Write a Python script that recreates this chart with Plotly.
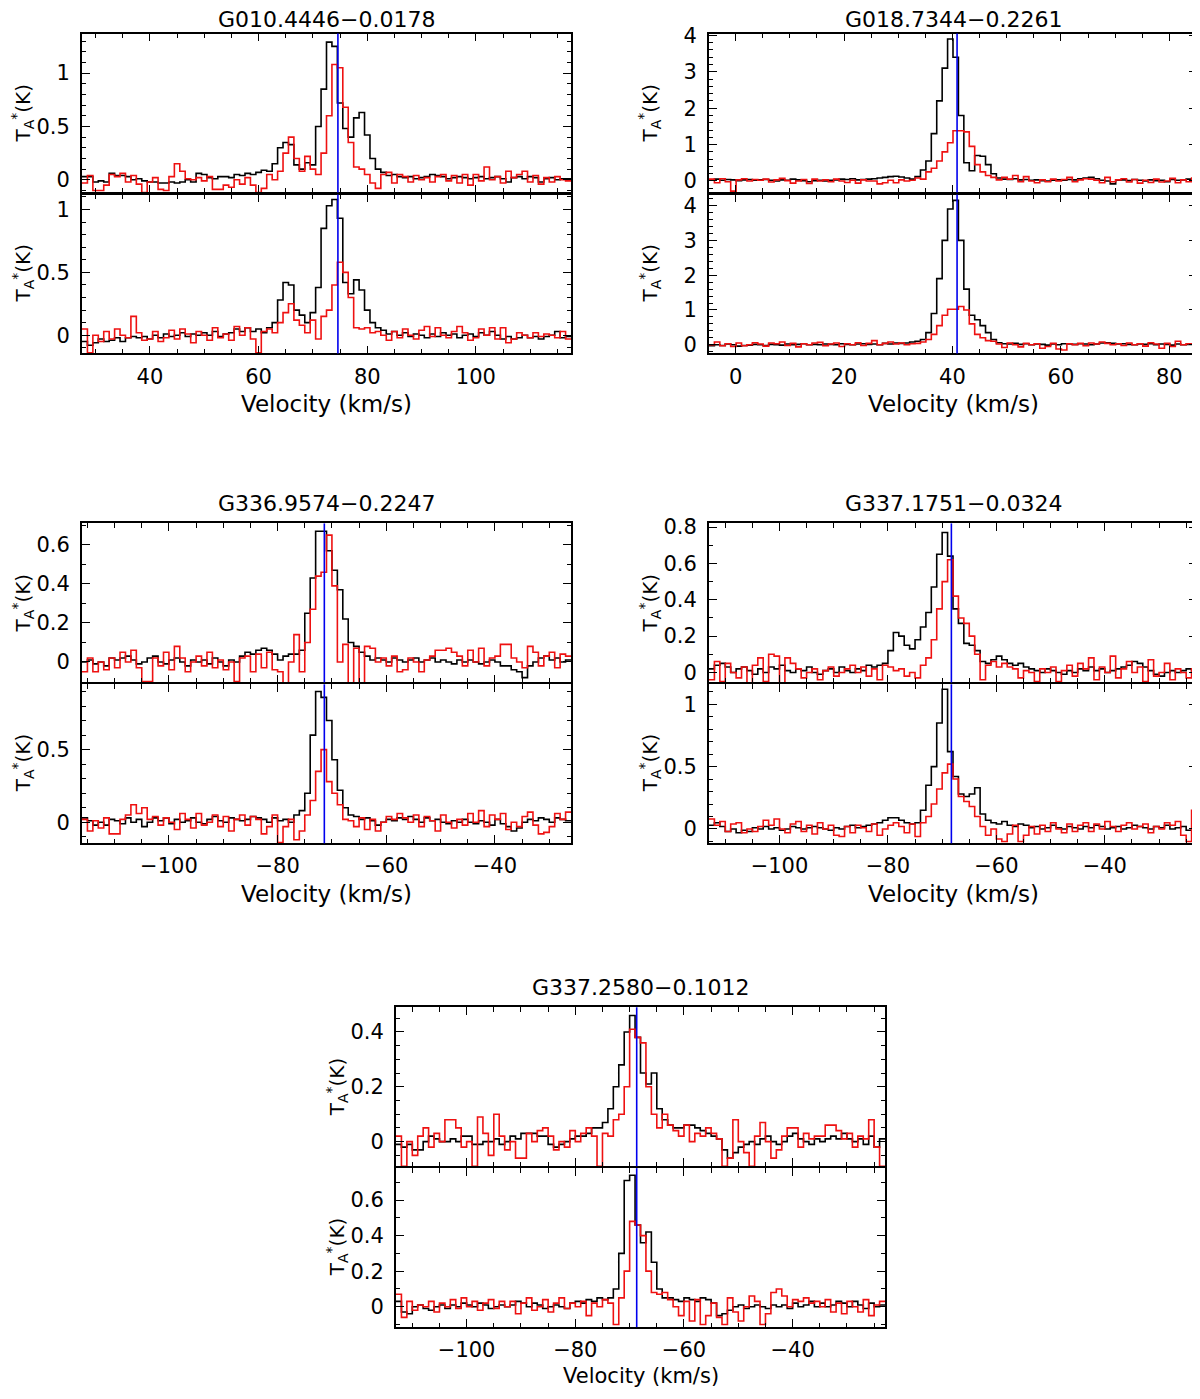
import numpy as np
import plotly.graph_objects as go

# source names, velocity grid (left edge of first channel) and marker velocity
names = ["G010.4446−0.0178", "G018.7344−0.2261", "G336.9574−0.2247",
         "G337.1751−0.0324", "G337.2580−0.1012"]
vel_start = [27.5, -4.9, -116.0, -113.0, -113.0]
chan_width = 1.0
v_marker = [74.6, 40.85, -71.4, -68.3, -68.7]

# ---- G010.4446-0.0178 ----
g010_top_black = [
    0.03, 0.03, -0.02, -0.01, -0.02, 0.06, 0.04, 0.04, 0.03, 0.00,
    0.01, -0.01, -0.02, -0.02, -0.03, -0.03, -0.02, -0.03, -0.02, 0.00,
    -0.02, 0.06, 0.05, 0.02, 0.01, 0.03, 0.03, 0.02, 0.05, 0.04,
    0.06, 0.05, 0.07, 0.09, 0.08, 0.15, 0.30, 0.35, 0.33, 0.14,
    0.10, 0.16, 0.14, 0.50, 0.85, 1.29, 1.25, 0.72, 0.48, 0.40,
    0.58, 0.63, 0.42, 0.20, 0.10, 0.07, 0.04, 0.05, 0.03, 0.02,
    0.03, 0.01, 0.02, 0.03, 0.05, 0.04, 0.03, 0.01, 0.02, 0.03,
    0.02, 0.01, 0.02, 0.03, 0.01, 0.02, 0.03, 0.01, -0.02, 0.02,
    0.03, 0.01, 0.03, 0.02, -0.02, 0.01, 0.02, 0.00, 0.01, 0.01]
g010_top_red = [
    -0.03, 0.04, -0.10, -0.10, -0.05, 0.05, 0.03, 0.06, -0.02, 0.04,
    -0.04, -0.12, -0.02, 0.02, -0.09, -0.10, 0.03, 0.15, 0.08, 0.01,
    0.00, 0.02, -0.01, 0.03, -0.09, -0.09, -0.05, -0.07, 0.00, -0.04,
    0.02, -0.05, -0.12, -0.08, 0.05, 0.00, 0.08, 0.25, 0.40, 0.20,
    0.08, 0.22, 0.10, 0.05, 0.25, 0.60, 1.08, 1.05, 0.68, 0.35,
    0.12, 0.10, 0.05, -0.03, -0.08, 0.05, 0.07, -0.03, 0.05, 0.03,
    -0.02, 0.04, 0.00, 0.02, -0.02, 0.03, 0.05, -0.01, 0.04, -0.03,
    0.05, -0.05, 0.05, -0.01, 0.12, 0.00, 0.03, -0.03, 0.08, 0.02,
    0.05, 0.08, -0.02, 0.04, -0.04, 0.02, -0.02, 0.03, 0.00, -0.01]
g010_bot_black = [
    -0.05, -0.08, -0.06, -0.03, -0.05, -0.04, -0.02, -0.05, -0.02, -0.01,
    -0.02, -0.01, -0.03, 0.00, -0.02, 0.01, -0.01, 0.00, 0.02, -0.01,
    0.01, 0.00, 0.02, 0.00, 0.03, -0.01, 0.01, 0.02, 0.05, 0.03,
    0.06, 0.03, 0.05, 0.02, 0.06, 0.10, 0.28, 0.42, 0.40, 0.20,
    0.16, 0.10, 0.18, 0.38, 0.85, 1.03, 1.08, 0.93, 0.42, 0.33,
    0.44, 0.36, 0.20, 0.10, 0.06, 0.04, 0.01, 0.03, 0.00, 0.02,
    -0.01, 0.01, 0.00, -0.02, 0.01, -0.01, 0.02, 0.00, 0.01, -0.02,
    0.00, 0.01, -0.01, 0.02, 0.00, 0.03, 0.00, -0.03, -0.01, -0.03,
    -0.02, 0.00, -0.02, -0.01, -0.03, -0.01, 0.00, 0.03, -0.02, -0.01]
g010_bot_red = [
    0.05, -0.14, 0.00, -0.05, 0.03, -0.03, 0.05, 0.00, -0.02, 0.15,
    0.02, -0.04, -0.03, 0.03, -0.05, -0.02, 0.04, -0.03, 0.05, 0.01,
    -0.06, 0.03, 0.00, -0.04, 0.06, -0.02, 0.01, -0.04, 0.07, 0.00,
    0.06, -0.03, -0.14, 0.03, 0.05, 0.02, 0.10, 0.18, 0.25, 0.12,
    0.08, 0.02, 0.12, -0.03, 0.15, 0.20, 0.40, 0.58, 0.50, 0.30,
    0.06, 0.05, 0.06, 0.02, 0.03, 0.00, -0.04, 0.03, -0.02, 0.05,
    0.00, -0.03, 0.04, 0.07, -0.01, 0.06, 0.00, -0.02, 0.03, 0.07,
    0.02, -0.04, -0.02, 0.05, 0.00, 0.06, -0.03, 0.06, -0.06, -0.03,
    0.02, 0.00, -0.02, 0.02, -0.01, 0.01, 0.00, -0.02, 0.03, -0.03]

# ---- G018.7344-0.2261 ----
g018_top_black = [
    0.03, 0.05, 0.02, 0.04, 0.03, 0.01, 0.03, 0.04, 0.02, 0.03,
    0.04, 0.02, 0.00, 0.03, 0.02, 0.05, 0.03, 0.01, -0.02, 0.01,
    0.02, 0.00, 0.02, 0.03, 0.05, 0.04, 0.06, 0.03, 0.04, 0.05,
    0.06, 0.08, 0.10, 0.12, 0.13, 0.11, 0.08, 0.05, 0.12, 0.30,
    0.55, 1.30, 2.20, 3.10, 3.90, 3.40, 1.80, 0.50, 0.28, 0.70,
    0.68, 0.45, 0.20, 0.08, 0.05, 0.04, 0.06, 0.03, 0.04, 0.02,
    0.03, 0.01, 0.00, 0.02, 0.03, 0.02, 0.04, 0.03, 0.06, 0.08,
    0.10, 0.06, 0.02, 0.00, -0.08, 0.02, 0.03, 0.01, 0.04, 0.02,
    0.00, 0.03, 0.01, 0.02, -0.02, 0.04, 0.02, 0.03, 0.05, 0.04]
g018_top_red = [
    0.05, -0.05, 0.06, -0.02, -0.28, 0.03, 0.06, 0.00, 0.04, 0.02,
    0.05, -0.03, 0.03, 0.07, 0.01, -0.06, 0.00, 0.04, -0.07, 0.05,
    0.00, 0.03, -0.02, 0.05, 0.00, -0.04, 0.02, -0.06, 0.03, 0.00,
    0.00, -0.08, -0.05, 0.02, -0.05, 0.03, 0.00, 0.02, 0.08, 0.05,
    0.25, 0.35, 0.55, 0.80, 1.05, 1.38, 1.38, 1.35, 0.95, 0.45,
    0.25, 0.15, 0.10, 0.03, 0.10, 0.05, 0.15, -0.02, 0.12, 0.00,
    -0.05, 0.03, -0.02, 0.05, 0.00, 0.04, 0.10, -0.02, 0.03, 0.06,
    0.05, 0.02, -0.05, 0.10, -0.02, 0.03, 0.06, -0.03, 0.04, -0.06,
    0.02, -0.04, 0.05, -0.03, 0.00, 0.07, -0.05, 0.03, -0.02, 0.08]
g018_bot_black = [
    -0.03, 0.00, -0.02, 0.02, 0.00, -0.04, -0.02, -0.01, 0.01, 0.00,
    -0.02, 0.01, 0.00, -0.01, 0.02, 0.00, 0.01, 0.03, 0.00, 0.01,
    0.00, 0.02, 0.01, 0.00, 0.03, 0.01, 0.00, 0.02, 0.03, 0.01,
    0.02, 0.00, 0.04, 0.02, 0.05, 0.04, 0.05, 0.08, 0.10, 0.15,
    0.35, 0.90, 1.90, 3.00, 3.90, 4.15, 3.00, 1.60, 0.85, 0.72,
    0.55, 0.35, 0.15, 0.06, 0.03, 0.02, 0.04, 0.01, 0.03, 0.00,
    0.02, 0.01, -0.01, 0.02, 0.00, 0.03, 0.02, 0.01, 0.03, 0.02,
    0.00, 0.02, 0.05, 0.06, 0.04, 0.02, 0.03, 0.01, 0.00, 0.02,
    0.01, 0.03, 0.00, 0.02, 0.01, -0.01, 0.02, 0.00, 0.01, 0.02]
g018_bot_red = [
    0.00, 0.08, -0.03, 0.03, -0.05, 0.05, -0.03, 0.00, 0.06, 0.02,
    -0.04, 0.05, 0.03, 0.08, -0.02, 0.04, -0.06, 0.03, 0.00, 0.05,
    0.07, -0.03, 0.02, 0.05, -0.05, 0.03, 0.00, 0.06, -0.02, 0.04,
    0.12, 0.00, 0.04, 0.08, 0.02, 0.05, 0.00, 0.03, 0.04, 0.08,
    0.15, 0.30, 0.55, 0.85, 1.02, 1.02, 1.10, 1.00, 0.60, 0.30,
    0.20, 0.12, 0.10, 0.02, -0.08, 0.05, 0.00, -0.06, 0.04, 0.00,
    0.03, -0.10, -0.05, 0.04, -0.12, -0.15, 0.03, 0.00, 0.04, -0.03,
    0.05, 0.02, 0.08, 0.04, 0.00, 0.03, -0.02, 0.05, 0.00, 0.03,
    -0.04, 0.06, 0.02, -0.10, 0.04, -0.05, 0.10, 0.00, 0.03, 0.02]

# ---- G336.9574-0.2247 ----
g336_top_black = [
    0.00, 0.01, -0.01, 0.00, -0.02, 0.02, 0.01, 0.02, 0.03, 0.01,
    -0.01, 0.00, 0.02, 0.03, 0.00, -0.01, 0.01, 0.02, 0.00, -0.02,
    0.01, 0.00, 0.01, -0.01, 0.02, 0.00, -0.02, 0.01, 0.00, 0.03,
    0.05, 0.04, 0.06, 0.07, 0.06, 0.04, 0.01, 0.03, 0.04, 0.04,
    0.06, 0.25, 0.43, 0.67, 0.67, 0.57, 0.47, 0.37, 0.22, 0.10,
    0.08, 0.05, 0.03, 0.01, 0.02, 0.01, 0.00, 0.02, 0.01, 0.00,
    0.01, 0.02, 0.00, 0.01, 0.02, 0.00, 0.01, 0.00, -0.01, 0.01,
    0.00, 0.01, 0.00, -0.01, 0.00, 0.01, 0.00, -0.02, -0.02, -0.04,
    -0.05, -0.08, -0.02, 0.00, 0.02, 0.03, 0.01, 0.02, 0.00, 0.01]
g336_top_red = [
    -0.05, 0.02, -0.05, 0.00, -0.04, 0.02, -0.03, 0.05, 0.00, 0.06,
    -0.03, -0.10, -0.10, 0.02, -0.02, 0.05, -0.04, 0.08, 0.02, -0.05,
    0.00, 0.03, -0.02, 0.05, -0.03, 0.01, -0.04, 0.00, -0.10, 0.02,
    0.03, -0.05, 0.04, -0.03, 0.05, -0.04, -0.05, -0.12, 0.00, 0.14,
    -0.05, 0.10, 0.27, 0.44, 0.46, 0.65, 0.39, 0.00, 0.09, -0.12,
    0.07, -0.12, 0.08, 0.07, 0.00, 0.02, -0.02, 0.03, -0.05, -0.04,
    0.02, 0.00, -0.05, 0.01, 0.03, 0.06, 0.06, 0.07, 0.05, 0.03,
    -0.02, 0.06, 0.00, 0.07, -0.02, 0.02, 0.03, 0.09, 0.09, 0.02,
    0.00, -0.03, 0.08, 0.05, -0.02, 0.03, 0.05, -0.03, 0.04, 0.03]
g336_bot_black = [
    0.03, 0.01, -0.02, 0.00, -0.02, 0.02, 0.01, -0.01, 0.03, 0.00,
    0.02, -0.03, 0.00, 0.03, 0.01, 0.03, -0.01, 0.02, 0.00, 0.01,
    0.03, 0.00, -0.01, 0.02, 0.04, 0.01, 0.00, 0.03, 0.02, 0.01,
    0.02, 0.04, 0.03, 0.02, 0.00, 0.03, 0.01, 0.02, 0.00, 0.05,
    0.08, 0.20, 0.60, 0.90, 0.86, 0.70, 0.43, 0.22, 0.10, 0.05,
    0.04, 0.02, 0.03, 0.01, -0.02, 0.00, 0.02, 0.01, 0.03, 0.02,
    0.04, 0.02, 0.00, 0.03, 0.01, 0.02, 0.00, -0.01, 0.01, 0.00,
    0.02, 0.00, -0.01, 0.01, 0.00, -0.02, 0.02, -0.01, -0.03, -0.06,
    -0.04, 0.00, 0.02, 0.01, 0.03, 0.02, 0.00, 0.03, 0.02, 0.01]
g336_bot_red = [
    0.02, -0.06, 0.01, -0.04, 0.03, -0.08, -0.08, 0.02, 0.05, 0.12,
    0.06, 0.10, 0.02, 0.04, -0.02, 0.03, 0.00, -0.05, 0.06, 0.02,
    -0.04, 0.06, -0.02, 0.00, 0.05, -0.03, 0.04, -0.06, 0.02, 0.05,
    -0.02, 0.04, 0.02, -0.08, -0.03, 0.05, -0.14, -0.03, 0.02, -0.12,
    -0.06, 0.05, 0.15, 0.35, 0.50, 0.28, 0.20, 0.12, 0.02, 0.01,
    -0.03, 0.03, -0.05, 0.02, -0.06, 0.00, 0.04, 0.02, 0.06, 0.03,
    0.00, 0.05, -0.03, 0.04, 0.01, -0.06, 0.05, 0.00, -0.04, 0.02,
    -0.02, 0.06, 0.00, 0.08, -0.03, 0.05, 0.02, 0.06, -0.05, 0.00,
    -0.03, 0.04, 0.07, -0.02, -0.08, -0.07, -0.03, 0.06, 0.02, 0.07]

# ---- G337.1751-0.0324 ----
g3371_top_black = [
    0.02, 0.04, 0.05, 0.03, 0.00, 0.02, 0.03, 0.01, -0.01, 0.02,
    0.00, 0.03, 0.02, 0.04, 0.01, 0.00, 0.02, 0.01, 0.03, 0.00,
    -0.01, 0.01, 0.02, 0.00, 0.03, 0.01, 0.00, 0.02, 0.01, 0.04,
    0.03, 0.04, 0.05, 0.12, 0.22, 0.20, 0.15, 0.13, 0.18, 0.25,
    0.33, 0.47, 0.65, 0.77, 0.64, 0.35, 0.27, 0.16, 0.15, 0.12,
    0.06, 0.05, 0.07, 0.09, 0.07, 0.05, 0.04, 0.05, 0.03, 0.02,
    0.01, 0.00, 0.02, 0.01, 0.00, -0.01, 0.01, 0.00, 0.02, 0.01,
    0.03, 0.01, 0.02, 0.00, 0.01, 0.02, 0.03, 0.04, 0.06, 0.05,
    0.03, 0.01, -0.01, -0.02, 0.00, 0.01, 0.00, 0.01, 0.02, 0.00]
g3371_top_red = [
    -0.04, 0.06, -0.05, 0.05, 0.00, -0.03, 0.03, -0.06, 0.04, 0.08,
    -0.05, 0.10, 0.09, -0.06, 0.08, 0.05, 0.02, -0.03, 0.00, 0.02,
    -0.04, 0.01, 0.03, -0.02, 0.00, 0.02, 0.04, 0.00, 0.03, -0.02,
    0.02, -0.04, 0.04, 0.03, 0.01, 0.02, -0.02, 0.00, -0.03, 0.04,
    0.08, 0.18, 0.35, 0.50, 0.62, 0.42, 0.30, 0.27, 0.20, 0.10,
    -0.04, 0.04, 0.06, 0.03, 0.05, 0.03, 0.02, -0.03, 0.01, 0.00,
    -0.05, 0.02, 0.00, 0.03, -0.05, 0.01, 0.04, -0.02, 0.05, 0.02,
    0.08, -0.04, 0.03, 0.00, 0.09, -0.03, 0.02, 0.06, 0.00, 0.03,
    -0.05, 0.07, -0.02, 0.00, 0.05, -0.04, 0.02, 0.00, -0.03, 0.02]
g3371_bot_black = [
    0.03, 0.05, 0.02, -0.02, 0.00, -0.03, -0.01, -0.02, 0.01, 0.00,
    0.02, 0.00, 0.01, -0.01, 0.00, 0.02, 0.01, 0.00, 0.01, 0.02,
    0.01, 0.00, -0.01, 0.01, 0.00, 0.02, 0.03, 0.01, 0.02, 0.03,
    0.04, 0.05, 0.07, 0.09, 0.09, 0.07, 0.05, 0.04, 0.05, 0.15,
    0.35, 0.50, 0.85, 1.12, 0.62, 0.42, 0.28, 0.26, 0.28, 0.33,
    0.12, 0.07, 0.05, 0.04, 0.06, 0.03, 0.02, 0.04, 0.03, 0.01,
    0.02, 0.00, 0.01, 0.03, 0.01, 0.00, 0.02, 0.01, 0.00, 0.02,
    0.01, 0.03, 0.02, 0.00, 0.01, 0.02, 0.00, 0.01, 0.03, 0.02,
    0.01, 0.00, 0.02, 0.01, 0.03, 0.00, 0.01, 0.02, -0.01, 0.00]
g3371_bot_red = [
    0.08, 0.03, 0.06, -0.02, 0.04, 0.05, -0.03, 0.00, -0.02, 0.02,
    0.07, 0.03, 0.08, 0.00, -0.03, 0.04, 0.06, -0.02, 0.03, -0.04,
    0.05, 0.00, 0.03, -0.05, -0.06, 0.02, -0.03, 0.03, 0.01, -0.02,
    0.04, -0.05, 0.00, 0.03, 0.05, 0.02, -0.03, 0.04, -0.06, 0.05,
    0.10, 0.20, 0.32, 0.45, 0.52, 0.40, 0.26, 0.22, 0.18, 0.10,
    0.02, -0.05, 0.00, -0.08, -0.10, -0.04, 0.03, -0.10, -0.05, 0.02,
    -0.04, 0.03, -0.02, 0.05, 0.00, -0.03, 0.04, -0.02, 0.03, 0.05,
    -0.02, 0.04, 0.00, 0.06, 0.02, -0.02, 0.03, 0.05, 0.00, 0.02,
    0.04, -0.03, 0.02, 0.00, 0.05, 0.03, 0.06, -0.05, -0.10, 0.15]

# ---- G337.2580-0.1012 ----
g3372_top_black = [
    -0.01, -0.02, -0.01, -0.03, -0.03, 0.00, 0.02, 0.01, 0.00, 0.00,
    0.01, 0.00, 0.02, 0.02, -0.01, -0.01, 0.00, 0.00, 0.01, -0.01,
    0.00, 0.02, 0.01, 0.03, 0.03, 0.03, 0.02, 0.02, -0.01, -0.02,
    -0.01, 0.00, 0.01, 0.02, 0.02, 0.03, 0.05, 0.05, 0.07, 0.12,
    0.20, 0.28, 0.40, 0.46, 0.38, 0.25, 0.21, 0.25, 0.12, 0.08,
    0.06, 0.05, 0.05, 0.06, 0.06, 0.05, 0.04, 0.03, 0.02, 0.01,
    -0.03, -0.06, -0.04, -0.02, -0.01, 0.00, -0.01, 0.01, 0.02, 0.00,
    -0.01, 0.00, 0.02, 0.03, 0.01, 0.00, -0.01, 0.01, 0.00, 0.01,
    0.02, 0.01, 0.03, 0.01, 0.00, 0.01, -0.01, 0.02, -0.02, 0.01]
g3372_top_red = [
    0.02, -0.09, 0.00, -0.05, 0.02, 0.05, -0.02, 0.03, 0.00, 0.08,
    0.08, 0.05, -0.02, 0.00, -0.09, 0.09, 0.03, -0.05, 0.10, 0.02,
    -0.03, 0.00, -0.06, -0.06, 0.03, 0.00, 0.04, 0.05, 0.02, -0.03,
    0.00, -0.02, 0.04, 0.00, 0.03, 0.05, 0.02, -0.09, 0.03, 0.02,
    0.08, 0.10, 0.20, 0.41, 0.38, 0.36, 0.20, 0.10, 0.05, 0.10,
    0.06, 0.04, 0.02, 0.06, 0.00, 0.03, 0.02, 0.05, 0.03, 0.01,
    -0.09, -0.06, 0.08, 0.00, -0.04, -0.09, 0.02, 0.07, 0.00, -0.06,
    -0.03, 0.02, 0.05, 0.05, -0.02, 0.03, 0.01, 0.02, 0.02, 0.06,
    0.06, 0.04, 0.01, 0.03, -0.02, 0.02, 0.01, 0.08, -0.02, -0.09]
g3372_bot_black = [
    0.03, -0.03, -0.04, 0.00, 0.01, -0.01, -0.02, 0.00, 0.01, -0.01,
    0.01, 0.00, 0.02, 0.01, 0.00, 0.02, 0.01, -0.01, 0.00, 0.01,
    0.00, 0.01, 0.03, 0.02, 0.00, 0.02, 0.01, -0.01, 0.00, 0.01,
    0.00, -0.01, 0.02, 0.03, 0.02, 0.04, 0.03, 0.05, 0.04, 0.05,
    0.10, 0.30, 0.71, 0.74, 0.46, 0.36, 0.42, 0.25, 0.10, 0.05,
    0.05, 0.04, 0.03, 0.05, 0.04, 0.03, 0.05, 0.04, 0.02, -0.05,
    -0.04, -0.02, 0.00, 0.01, -0.01, 0.00, 0.01, 0.00, -0.01, 0.01,
    0.00, 0.01, -0.01, 0.02, 0.00, 0.01, 0.03, 0.00, 0.02, 0.00,
    0.01, 0.03, 0.02, 0.00, 0.03, 0.01, -0.01, 0.02, 0.00, 0.01]
g3372_bot_red = [
    0.07, -0.06, 0.03, -0.02, 0.01, 0.00, 0.03, -0.03, 0.02, 0.00,
    0.04, -0.01, 0.05, 0.00, 0.03, -0.02, 0.02, 0.04, -0.01, 0.03,
    0.00, 0.03, -0.04, 0.02, 0.05, -0.02, 0.00, 0.04, -0.03, 0.02,
    0.05, -0.01, 0.02, 0.00, 0.03, -0.05, 0.02, 0.00, 0.04, 0.02,
    -0.10, 0.05, 0.20, 0.48, 0.46, 0.40, 0.20, 0.08, 0.07, 0.08,
    0.04, 0.00, -0.05, 0.03, -0.08, 0.04, -0.10, -0.05, 0.02, -0.06,
    -0.10, 0.05, -0.03, -0.08, 0.00, 0.06, 0.03, -0.10, -0.04, 0.08,
    0.10, 0.06, 0.00, 0.04, 0.03, 0.05, 0.02, 0.03, 0.00, 0.04,
    -0.03, 0.02, -0.04, 0.03, 0.00, -0.03, 0.04, -0.05, 0.01, 0.03]

spectra = [
    (g010_top_black, g010_top_red, g010_bot_black, g010_bot_red),
    (g018_top_black, g018_top_red, g018_bot_black, g018_bot_red),
    (g336_top_black, g336_top_red, g336_bot_black, g336_bot_red),
    (g3371_top_black, g3371_top_red, g3371_bot_black, g3371_bot_red),
    (g3372_top_black, g3372_top_red, g3372_bot_black, g3372_bot_red),
]

# axis settings: (y range, major step, minor step) for top and bottom panels
y_axes = [
    (([-0.12, 1.37], 0.5, 0.1), ([-0.145, 1.12], 0.5, 0.1)),
    (([-0.32, 4.05], 1, 0.2), ([-0.25, 4.32], 1, 0.2)),
    (([-0.105, 0.71], 0.2, 0.1), ([-0.145, 0.95], 0.5, 0.1)),
    (([-0.055, 0.82], 0.2, 0.1), ([-0.115, 1.16], 0.5, 0.1)),
    (([-0.09, 0.49], 0.2, 0.05), ([-0.115, 0.78], 0.2, 0.1)),
]

# page layout, in pixels of the 1200x1399 page (html body has an 8px margin)
PAGE_OFF = 8
FW, FH = 1200 - PAGE_OFF, 1399 - 2 * PAGE_OFF
panel_cols = [(82, 571), (709, 1197), (82, 571), (709, 1197), (396, 885)]
panel_tops = [33, 33, 523, 523, 1007]
title_y = [19, 19, 503, 503, 987]
xlabel_y = [404, 404, 894, 894, 1376]
xlabel_size = [23, 23, 23, 23, 21]
PANEL_H = 160
LW = 1.8


def fx(px):
    return (px - PAGE_OFF) / FW


def fy(py):
    # the captured page comes out slightly squeezed vertically; undo that
    py = (py - 9.5) / 0.9902
    return 1 - (py - PAGE_OFF) / FH


FONT = "DejaVu Sans"
fig = go.Figure()
layout = {}
annotations = []
shapes = []

base_axis = dict(
    showline=True, linecolor="black", linewidth=LW, mirror="allticks",
    ticks="inside", ticklen=8, tickwidth=1.3, tickcolor="black",
    showgrid=False, zeroline=False,
    tickfont=dict(family=FONT, size=21, color="black"),
)

for s in range(5):
    left, right = panel_cols[s]
    top0 = panel_tops[s]
    mid = top0 + PANEL_H
    n = len(spectra[s][0])
    edges = vel_start[s] + chan_width * np.arange(n + 1)
    xr = [edges[0], edges[-1]]
    for p in range(2):
        idx = 2 * s + p + 1
        sfx = "" if idx == 1 else str(idx)
        if p == 0:
            top, bot = top0, mid - LW / 2
        else:
            top, bot = mid + LW / 2, mid + PANEL_H
        for vals, col in ((spectra[s][2 * p], "black"), (spectra[s][2 * p + 1], "#ee1111")):
            fig.add_trace(go.Scatter(
                x=edges, y=list(vals) + [vals[-1]], mode="lines",
                line=dict(color=col, width=1.6, shape="hv"),
                xaxis="x" + sfx, yaxis="y" + sfx, showlegend=False,
            ))
        yr, dt, mdt = y_axes[s][p]
        layout["xaxis" + sfx] = dict(
            base_axis, domain=[fx(left), fx(right)], range=xr, anchor="y" + sfx,
            tickmode="linear", tick0=0, dtick=20, showticklabels=(p == 1),
            ticklabelstandoff=3,
            minor=dict(ticks="inside", ticklen=4.5, tickwidth=1.2, tickcolor="black",
                       tick0=0, dtick=5),
        )
        layout["yaxis" + sfx] = dict(
            base_axis, domain=[fy(bot), fy(top)], range=yr, anchor="x" + sfx,
            tickmode="linear", tick0=0, dtick=dt, ticklabelstandoff=6,
            minor=dict(ticks="inside", ticklen=4.5, tickwidth=1.2, tickcolor="black",
                       tick0=0, dtick=mdt),
        )
        shapes.append(dict(
            type="line", xref="x" + sfx, yref="y" + sfx + " domain",
            x0=v_marker[s], x1=v_marker[s], y0=0, y1=1,
            line=dict(color="#0000ee", width=1.6),
        ))
        annotations.append(dict(
            text="T<sub>A</sub><sup>*</sup>(K)", textangle=-90, showarrow=False,
            xref="paper", yref="paper", x=fx(left - 59), y=fy(top0 + PANEL_H * (p + 0.5)),
            xanchor="center", yanchor="middle",
            font=dict(family=FONT, size=20, color="black"),
        ))
    annotations.append(dict(
        text=names[s], showarrow=False, xref="paper", yref="paper",
        x=fx((left + right) / 2), y=fy(title_y[s]),
        xanchor="center", yanchor="middle",
        font=dict(family=FONT, size=22, color="black"),
    ))
    annotations.append(dict(
        text="Velocity (km/s)", showarrow=False, xref="paper", yref="paper",
        x=fx((left + right) / 2), y=fy(xlabel_y[s]),
        xanchor="center", yanchor="middle",
        font=dict(family=FONT, size=xlabel_size[s], color="black"),
    ))

fig.update_layout(
    width=FW, height=FH,
    margin=dict(l=0, r=0, t=0, b=0),
    paper_bgcolor="white", plot_bgcolor="white",
    annotations=annotations, shapes=shapes,
    **layout,
)

fig.write_html("out.html")
